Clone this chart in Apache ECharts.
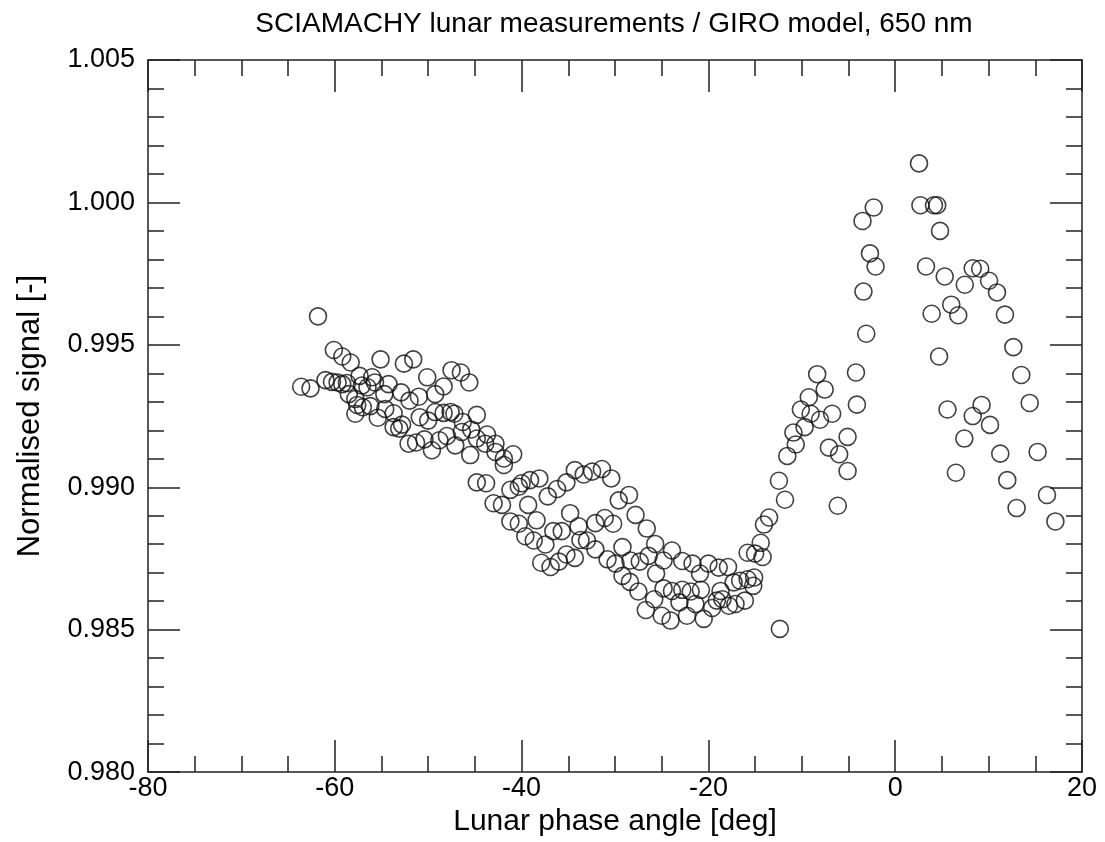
<!DOCTYPE html>
<html>
<head>
<meta charset="utf-8">
<script src="https://cdn.jsdelivr.net/npm/echarts@6/dist/echarts.min.js"></script>
<style>
  html, body { margin: 0; padding: 0; background: #fff; }
  #chart { width: 1105px; height: 842px; }
</style>
</head>
<body>
<div id="chart"></div>
<script>
// lunar phase angle [deg] and normalised signal
const phaseAngle = [
  -63.6, -62.6, -61.8, -61.0, -60.3, -60.1, -59.7, -59.2, -59.2, -58.7,
  -58.5, -58.3, -57.8, -57.8, -57.6, -57.35, -57.1, -57.0, -56.5, -56.2,
  -56.0, -55.7, -55.4, -55.1, -54.7, -54.6, -54.25, -53.7, -53.7, -53.1,
  -52.9, -52.8, -52.6, -52.1, -52.0, -51.6, -51.3, -51.0, -50.9, -50.4,
  -50.1, -50.0, -49.6, -49.25, -49.25, -48.8, -48.35, -48.35, -48.0, -47.6,
  -47.5, -47.2, -47.1, -46.5, -46.4, -46.3, -45.6, -45.5, -45.4, -44.8,
  -44.8, -44.8, -43.8, -43.7, -43.9, -42.8, -42.8, -43.0, -42.1, -41.9,
  -41.9, -41.2, -41.2, -40.9, -40.3, -40.3, -40.0, -39.6, -39.3, -39.1,
  -38.7, -38.4, -38.1, -37.9, -37.45, -37.2, -36.9, -36.6, -36.2, -36.0,
  -35.7, -35.2, -35.2, -34.8, -34.3, -34.3, -33.9, -33.7, -33.35, -33.0,
  -32.45, -32.1, -32.1, -31.4, -31.1, -30.8, -30.4, -30.2, -29.95, -29.6,
  -29.2, -29.2, -28.5, -28.4, -28.35, -27.8, -27.5, -27.35, -26.7, -26.6,
  -26.4, -25.8, -25.7, -25.6, -25.0, -24.8, -24.8, -24.05, -23.9, -23.9,
  -23.1, -22.8, -22.8, -22.3, -21.9, -21.7, -21.4, -20.9, -20.8, -20.5,
  -20.0, -19.6, -19.1, -18.9, -18.7, -18.5, -17.9, -17.8, -17.3, -17.1,
  -16.6, -16.1, -15.8, -15.8, -15.2, -15.1, -15.0, -14.4, -14.2, -14.05,
  -13.5, -12.45, -12.35, -11.8, -11.55, -10.9, -10.65, -10.1, -9.7, -9.25,
  -9.05, -8.35, -8.05, -7.55, -7.1, -6.75, -6.15, -6.0, -5.1, -5.1,
  -4.2, -4.1, -3.5, -3.4, -3.1, -2.7, -2.3, -2.1,
  2.55, 2.7, 3.3, 3.9, 4.15, 4.5, 4.7, 4.8, 5.3, 5.6,
  6.0, 6.5, 6.75, 7.4, 7.45, 8.3, 8.3, 9.1, 9.25, 10.05,
  10.15, 10.9, 11.25, 11.75, 12.0, 12.65, 13.0, 13.5, 14.4, 15.25,
  16.25, 17.15
]
const signal = [
  0.99353, 0.99347, 0.99600, 0.99376, 0.99370, 0.99482, 0.99368, 0.99459, 0.99362, 0.99366,
  0.99327, 0.99438, 0.99310, 0.99258, 0.99289, 0.99391, 0.99357, 0.99281, 0.99351, 0.99285,
  0.99386, 0.99368, 0.99244, 0.99449, 0.99327, 0.99275, 0.99362, 0.99260, 0.99211, 0.99206,
  0.99333, 0.99220, 0.99434, 0.99153, 0.99304, 0.99449, 0.99157, 0.99318, 0.99246, 0.99168,
  0.99386, 0.99234, 0.99130, 0.99327, 0.99264, 0.99165, 0.99354, 0.99261, 0.99180, 0.99264,
  0.99411, 0.99258, 0.99147, 0.99403, 0.99194, 0.99229, 0.99368, 0.99113, 0.99203, 0.99254,
  0.99171, 0.99017, 0.99014, 0.99185, 0.99153, 0.99153, 0.99124, 0.98944, 0.98938, 0.99101,
  0.99078, 0.98991, 0.98880, 0.99116, 0.99002, 0.98872, 0.99014, 0.98828, 0.98938, 0.99025,
  0.98813, 0.98884, 0.99031, 0.98735, 0.98799, 0.98968, 0.98720, 0.98846, 0.98994, 0.98739,
  0.98846, 0.99017, 0.98764, 0.98909, 0.99060, 0.98752, 0.98863, 0.98815, 0.99045, 0.98813,
  0.99055, 0.98874, 0.98782, 0.99064, 0.98892, 0.98747, 0.99031, 0.98872, 0.98732, 0.98954,
  0.98790, 0.98689, 0.98973, 0.98668, 0.98743, 0.98903, 0.98634, 0.98739, 0.98569, 0.98855,
  0.98759, 0.98607, 0.98801, 0.98697, 0.98549, 0.98743, 0.98645, 0.98532, 0.98778, 0.98636,
  0.98596, 0.98741, 0.98640, 0.98549, 0.98634, 0.98732, 0.98590, 0.98697, 0.98640, 0.98538,
  0.98732, 0.98576, 0.98602, 0.98718, 0.98636, 0.98607, 0.98720, 0.98584, 0.98666, 0.98590,
  0.98672, 0.98602, 0.98677, 0.98770, 0.98654, 0.98683, 0.98767, 0.98805, 0.98755, 0.98869,
  0.98894, 0.99023, 0.98503, 0.98956, 0.99110, 0.99192, 0.99150, 0.99273, 0.99211, 0.99316,
  0.99258, 0.99397, 0.99237, 0.99343, 0.99139, 0.99258, 0.98935, 0.99116, 0.99177, 0.99057,
  0.99403, 0.99290, 0.99935, 0.99687, 0.99539, 0.99821, 0.99982, 0.99775,
  1.00137, 0.99990, 0.99775, 0.99609, 0.99990, 0.99990, 0.99459, 0.99900, 0.99740, 0.99273,
  0.99641, 0.99051, 0.99604, 0.99171, 0.99711, 0.99769, 0.99250, 0.99767, 0.99289, 0.99725,
  0.99219, 0.99684, 0.99118, 0.99606, 0.99025, 0.99492, 0.98927, 0.99394, 0.99296, 0.99124,
  0.98973, 0.98880
]

const xRange = { min: -80, max: 20, interval: 20, minorSplit: 4 }
const yRange = { min: 0.980, max: 1.005, interval: 0.005, minorSplit: 5 }

const font = 'Liberation Sans, Arial, Helvetica, sans-serif'
const lineColor = '#222'
const textColor = '#000'

function boxAxis (range, opts) {
  return Object.assign({
    type: 'value',
    min: range.min,
    max: range.max,
    interval: range.interval,
    axisLine: { show: true, onZero: false, lineStyle: { color: lineColor, width: 1.5 } },
    axisTick: { show: true, inside: true, length: 32, lineStyle: { color: lineColor, width: 1.5 } },
    minorTick: { show: true, splitNumber: range.minorSplit, length: 16, lineStyle: { color: lineColor, width: 1.5 } },
    splitLine: { show: false },
    minorSplitLine: { show: false }
  }, opts)
}

const points = phaseAngle.map((x, i) => [x, signal[i]])

const chart = echarts.init(document.getElementById('chart'), null, { renderer: 'canvas' })
chart.setOption({
  animation: false,
  backgroundColor: '#fff',
  // title centred over the plot box, not the page
  title: {
    text: 'SCIAMACHY lunar measurements / GIRO model, 650 nm',
    left: 609,
    textAlign: 'center',
    top: 5,
    textStyle: { fontFamily: font, fontSize: 28, fontWeight: 'normal', color: textColor }
  },
  grid: { left: 148, right: 23, top: 60, bottom: 66, containLabel: false },
  xAxis: [
    boxAxis(xRange, {
      position: 'bottom',
      name: 'Lunar phase angle [deg]',
      nameLocation: 'middle',
      nameGap: 31,
      nameTextStyle: { fontFamily: font, fontSize: 30, color: textColor },
      axisLabel: { fontFamily: font, fontSize: 27, color: textColor, margin: 3 }
    }),
    boxAxis(xRange, { position: 'top', axisLabel: { show: false } })
  ],
  yAxis: [
    boxAxis(yRange, {
      position: 'left',
      name: 'Normalised signal [-]',
      nameLocation: 'middle',
      nameGap: 102,
      nameTextStyle: { fontFamily: font, fontSize: 31, color: textColor },
      axisLabel: {
        fontFamily: font, fontSize: 27, color: textColor, margin: 13,
        formatter: v => v.toFixed(3)
      }
    }),
    boxAxis(yRange, { position: 'right', axisLabel: { show: false } })
  ],
  series: [{
    type: 'scatter',
    data: points,
    symbol: 'circle',
    symbolSize: 17,
    itemStyle: { color: 'transparent', borderColor: '#111', borderWidth: 1.6 },
    emphasis: { disabled: true }
  }]
})
</script>
</body>
</html>
